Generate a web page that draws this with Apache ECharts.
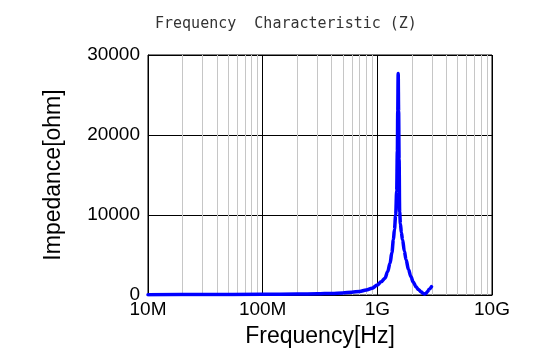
<!DOCTYPE html>
<html>
<head>
<meta charset="utf-8">
<script src="https://cdn.jsdelivr.net/npm/echarts@6/dist/echarts.min.js"></script>
<style>
html,body{margin:0;padding:0;background:#fff;}
#chart{width:549px;height:361px;}
</style>
</head>
<body>
<div id="chart"></div>
<script>
// Frequency (Hz)
var frequencies = [
  1e7, 3e7, 1e8, 2e8, 3e8, 4e8, 5e8, 6e8, 7e8, 8e8, 9e8,
  1.0e9, 1.08e9, 1.165e9, 1.23e9, 1.29e9, 1.34e9, 1.38e9, 1.41e9, 1.445e9,
  1.475e9, 1.495e9, 1.507e9, 1.52e9, 1.533e9, 1.548e9, 1.565e9, 1.59e9, 1.62e9,
  1.66e9, 1.72e9, 1.78e9, 1.87e9, 1.96e9, 2.06e9, 2.17e9, 2.28e9, 2.4e9, 2.5e9,
  2.57e9, 2.65e9, 2.75e9, 2.83e9, 2.97e9
];
// Impedance (ohm)
var impedance = [
  40, 50, 80, 110, 150, 200, 260, 340, 450, 620, 850,
  1250, 1650, 2100, 2900, 3960, 5300, 6900, 8200, 10000,
  13000, 18000, 23000, 27700, 23000, 17000, 10400, 8900, 7800,
  6900, 5500, 4400, 3200, 2300, 1600, 1040, 700, 410, 220,
  130, 200, 450, 710, 1040
];
var xTickValues = [1e7, 1e8, 1e9, 1e10];
var xTickLabels = ['10M', '100M', '1G', '10G'];
var yTickLabels = ['0', '10000', '20000', '30000'];
var minorMultipliers = [2, 3, 4, 5, 6, 7, 8, 9];
var decades = [1e7, 1e8, 1e9];

var minorLines = [];
decades.forEach(function (d) {
  minorMultipliers.forEach(function (m) { minorLines.push({ xAxis: d * m }); });
});

var chart = echarts.init(document.getElementById('chart'), null, { renderer: 'canvas' });
var labelFont = 'Liberation Sans, Arial, sans-serif';
chart.setOption({
  animation: false,
  backgroundColor: '#ffffff',
  title: {
    text: 'Frequency  Characteristic (Z)',
    left: 150,
    top: 12,
    textStyle: { fontFamily: 'DejaVu Sans Mono', fontSize: 15, fontWeight: 'normal', color: '#333333' }
  },
  grid: {
    left: 148, right: 57, top: 55, bottom: 66,
    show: true, borderColor: '#000000', borderWidth: 1, backgroundColor: 'transparent'
  },
  xAxis: {
    type: 'log',
    logBase: 10,
    min: 1e7,
    max: 1e10,
    name: 'Frequency[Hz]',
    nameLocation: 'middle',
    nameGap: 30,
    nameTextStyle: { fontFamily: labelFont, fontSize: 23, color: '#000000' },
    axisLine: { show: true, lineStyle: { color: '#000000', width: 1 } },
    axisTick: { show: false },
    axisLabel: {
      margin: 5,
      fontFamily: labelFont, fontSize: 19, color: '#000000',
      formatter: function (v) {
        for (var i = 0; i < xTickValues.length; i++) {
          if (Math.abs(Math.log10(v) - Math.log10(xTickValues[i])) < 1e-6) return xTickLabels[i];
        }
        return '';
      }
    },
    splitLine: { show: true, lineStyle: { color: '#000000', width: 1 } },
    minorTick: { show: false },
    minorSplitLine: { show: false }
  },
  yAxis: {
    type: 'value',
    min: 0,
    max: 30000,
    interval: 10000,
    name: 'Impedance[ohm]',
    nameLocation: 'middle',
    nameGap: 83,
    nameTextStyle: { fontFamily: labelFont, fontSize: 23, color: '#000000' },
    axisLine: { show: true, lineStyle: { color: '#000000', width: 1 } },
    axisTick: { show: false },
    axisLabel: {
      margin: 8,
      fontFamily: labelFont, fontSize: 19, color: '#000000',
      formatter: function (v) {
        var idx = Math.round(v / 10000);
        return yTickLabels[idx] !== undefined ? yTickLabels[idx] : '';
      }
    },
    splitLine: { show: true, lineStyle: { color: '#000000', width: 1 } }
  },
  series: [
    {
      type: 'line',
      data: [],
      z: 1,
      silent: true,
      markLine: {
        silent: true,
        symbol: ['none', 'none'],
        label: { show: false },
        lineStyle: { color: '#c6c6c6', type: 'solid', width: 1 },
        data: minorLines,
        animation: false
      }
    },
    {
      type: 'line',
      z: 5,
      data: frequencies.map(function (f, i) { return [f, impedance[i]]; }),
      showSymbol: false,
      smooth: 0.35,
      smoothMonotone: 'x',
      lineStyle: { color: '#0000ff', width: 3.5, join: 'round', cap: 'round' },
      itemStyle: { color: '#0000ff' }
    }
  ]
});
</script>
</body>
</html>
